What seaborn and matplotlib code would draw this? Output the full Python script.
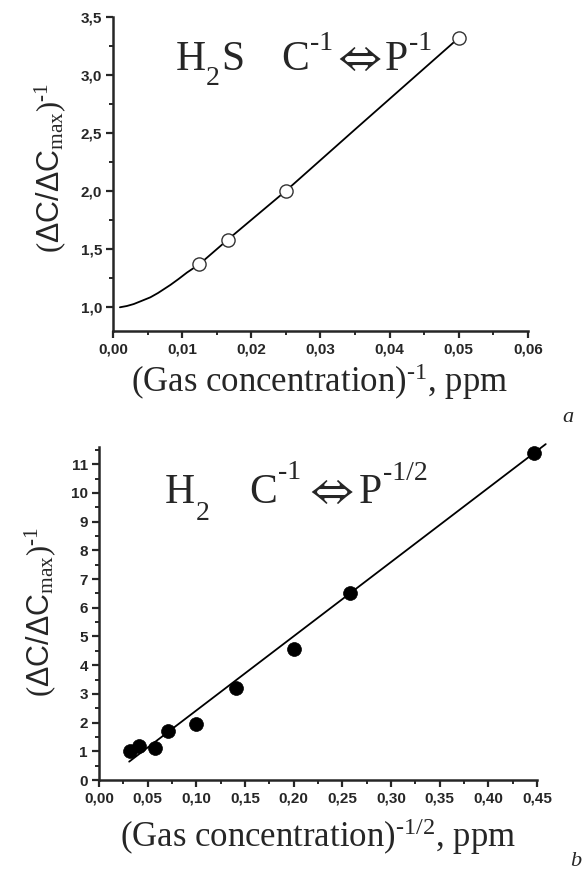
import numpy as np
import pandas as pd
import matplotlib
matplotlib.use('Agg')
import matplotlib.pyplot as plt
import seaborn as sns
from matplotlib.ticker import MultipleLocator, FixedLocator, FixedFormatter

# panel a: H2S, C^-1 vs P^-1
h2s_x = [0.0125, 0.0167, 0.025, 0.05]
h2s_y = [1.37, 1.58, 2.0, 3.32]
# fitted curve
h2s_fit_x = [0.001, 0.002, 0.003, 0.004, 0.0054, 0.0065, 0.0083, 0.0095, 0.0107,
             0.0125, 0.0167, 0.025, 0.035, 0.05]
h2s_fit_y = [0.995, 1.006, 1.023, 1.047, 1.081, 1.118, 1.188, 1.240, 1.295,
             1.367, 1.584, 2.0, 2.53, 3.32]
a_xticks = [0.00, 0.01, 0.02, 0.03, 0.04, 0.05, 0.06]
a_xlabels = ['0,00', '0,01', '0,02', '0,03', '0,04', '0,05', '0,06']
a_yticks = [1.0, 1.5, 2.0, 2.5, 3.0, 3.5]
a_ylabels = ['1,0', '1,5', '2,0', '2,5', '3,0', '3,5']

# panel b: H2, C^-1 vs P^-1/2
h2_x = [0.032, 0.041, 0.058, 0.071, 0.100, 0.141, 0.200, 0.258, 0.447]
h2_y = [1.00, 1.18, 1.10, 1.72, 1.95, 3.20, 4.58, 6.52, 11.38]
h2_fit_x = [0.031, 0.459]
h2_fit_y = [0.64, 11.7]
b_xticks = [0.00, 0.05, 0.10, 0.15, 0.20, 0.25, 0.30, 0.35, 0.40, 0.45]
b_xlabels = ['0,00', '0,05', '0,10', '0,15', '0,20', '0,25', '0,30', '0,35', '0,40', '0,45']
b_yticks = list(range(0, 12))
b_ylabels = [str(v) for v in b_yticks]

sns.set_style('ticks')
plt.rcParams['mathtext.fontset'] = 'custom'
plt.rcParams['mathtext.rm'] = 'Liberation Serif'
plt.rcParams['mathtext.it'] = 'Liberation Serif:italic'
plt.rcParams['mathtext.sf'] = 'Liberation Sans'
plt.rcParams['mathtext.fallback'] = 'stix'
plt.rcParams['font.family'] = ['Liberation Serif', 'DejaVu Serif']

W, H = 584, 873
fig = plt.figure(figsize=(5.84, 8.73), dpi=100)
ax1 = fig.add_axes([0.1935, 0.6208, 0.7105, 0.3597])
ax2 = fig.add_axes([0.1695, 0.1065, 0.75, 0.3815])


def put(x, y, s, size, **kw):
    # place text by pixel position (from top-left), baseline aligned
    kw.setdefault('va', 'baseline')
    fig.text(x / W, 1 - y / H, s, fontsize=size, ha='left', **kw)


def style_axis(ax, xt, xl, yt, yl, xminor, yminor):
    ax.xaxis.set_major_locator(FixedLocator(xt))
    ax.xaxis.set_major_formatter(FixedFormatter(xl))
    ax.yaxis.set_major_locator(FixedLocator(yt))
    ax.yaxis.set_major_formatter(FixedFormatter(yl))
    ax.xaxis.set_minor_locator(MultipleLocator(xminor))
    ax.yaxis.set_minor_locator(MultipleLocator(yminor))
    sns.despine(ax=ax)
    for s in ['left', 'bottom']:
        ax.spines[s].set_linewidth(1.8)
    ax.tick_params(which='major', direction='out', length=5, width=1.6,
                   labelsize=11, pad=3)
    ax.tick_params(which='minor', direction='out', length=3, width=1.4)
    for lab in ax.get_xticklabels() + ax.get_yticklabels():
        lab.set_fontfamily('Liberation Sans')
        lab.set_fontweight('bold')
    ax.set_xlabel('')
    ax.set_ylabel('')


# ---- panel a
sns.lineplot(x=h2s_fit_x, y=h2s_fit_y, ax=ax1, color='black', lw=1.3, sort=False)
sns.scatterplot(x=h2s_x, y=h2s_y, ax=ax1, s=90, color='white',
                edgecolor='#333333', linewidth=1.0, zorder=3, clip_on=False)
ax1.set_xlim(0, 0.06)
ax1.set_ylim(0.79, 3.5)
style_axis(ax1, a_xticks, a_xlabels, a_yticks, a_ylabels, 0.005, 0.25)

# H2S  C^-1 <=> P^-1
put(176, 70, 'H', 30)
put(206, 85, '2', 20)
put(221, 70, 'S', 30)
put(281, 70, 'C', 30)
put(310, 50, '-1', 20)
put(332, 60, r'$\Leftrightarrow$', 33, va='center', math_fontfamily='stix')
put(385, 70, 'P', 30)
put(409, 50, '-1', 20)

# ---- panel b
sns.lineplot(x=h2_fit_x, y=h2_fit_y, ax=ax2, color='black', lw=1.3)
ax2.lines[-1].set_clip_on(False)
sns.scatterplot(x=h2_x, y=h2_y, ax=ax2, s=100, color='black',
                edgecolor='black', linewidth=0.5, zorder=3, clip_on=False)
ax2.set_xlim(0, 0.45)
ax2.set_ylim(0, 11.6)
style_axis(ax2, b_xticks, b_xlabels, b_yticks, b_ylabels, 0.025, 0.5)

# H2  C^-1 <=> P^-1/2
put(165, 503, 'H', 30)
put(196, 520, '2', 20)
put(249, 503, 'C', 30)
put(278, 479, '-1', 20)
put(304, 493, r'$\Leftrightarrow$', 33, va='center', math_fontfamily='stix')
put(359, 503, 'P', 30)
put(383, 480, '-1/2', 20)

# axis titles
ylab = r'$(\mathsf{\Delta C/\Delta C}_{\mathrm{max}})^{\text{-1}}$'
fig.text(50 / W, 1 - 168 / H, ylab, rotation=90, ha='center', va='center', fontsize=22)
fig.text(40 / W, 1 - 612 / H, ylab, rotation=90, ha='center', va='center', fontsize=22)
fig.text(320 / W, 1 - 392 / H, r'(Gas concentration)$^{\text{-1}}$, ppm',
         ha='center', va='baseline', fontsize=25)
fig.text(318 / W, 1 - 847 / H, r'(Gas concentration)$^{\text{-1/2}}$, ppm',
         ha='center', va='baseline', fontsize=25)

put(562, 422, 'a', 16, style='italic')
put(570, 866, 'b', 16, style='italic')

fig.savefig('out.png', dpi=100)
